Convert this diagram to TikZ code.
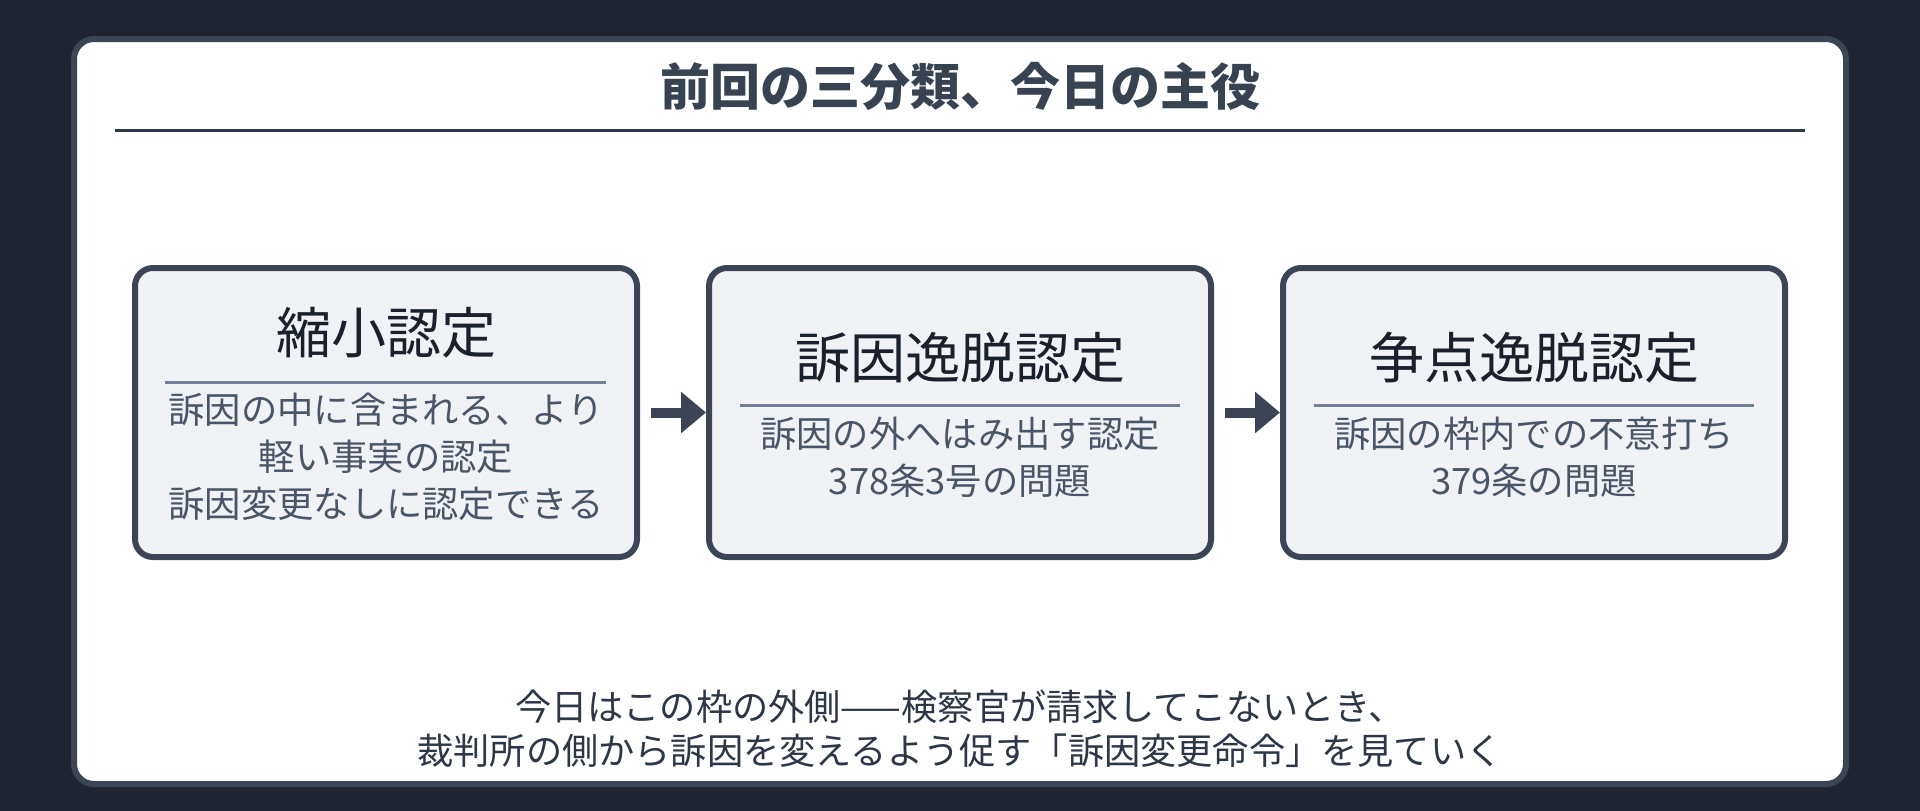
\documentclass[tikz,border=0pt]{standalone}
\usepackage{fontspec}
\setmainfont{Noto Sans CJK JP}
\usetikzlibrary{arrows.meta}
\definecolor{bgdark}{HTML}{1F2430}
\definecolor{framecol}{HTML}{3B4556}
\definecolor{titlecol}{HTML}{384352}
\definecolor{rulecol}{HTML}{2D3748}
\definecolor{boxfill}{HTML}{F0F2F6}
\definecolor{headcol}{HTML}{1A202C}
\definecolor{bodycol}{HTML}{4A5568}
\definecolor{sepcol}{HTML}{718096}
\definecolor{footcol}{HTML}{2D3748}
\tikzset{
  stagebox/.style={draw=framecol, fill=boxfill, line width=6pt, rounded corners=18pt,
    minimum width=502pt, minimum height=289pt, outer sep=3pt, inner sep=0pt},
  stagehead/.style={text=headcol, font=\fontsize{55}{60}\selectfont, inner sep=0pt},
  stagebody/.style={text=bodycol, font=\fontsize{36.3}{47}\selectfont, align=center, inner sep=0pt},
  sepline/.style={draw=sepcol, line width=3pt},
  flowarrow/.style={draw=framecol, line width=10pt, -{Triangle[length=25pt,width=40pt]}},
}
\begin{document}
\begin{tikzpicture}[x=1pt,y=-1pt]
\useasboundingbox (0,0) rectangle (1920,811);
\fill[bgdark] (0,0) rectangle (1920,811);
\draw[framecol, fill=white, line width=6pt, rounded corners=20pt] (74,39) rectangle (1846,784);
\node[text=titlecol, font=\bfseries\fontsize{50}{56}\selectfont, inner sep=0pt] (title) at (960,86) {前回の三分類、今日の主役};
\draw[rulecol, line width=3pt] (115,130) -- (1805,130);

\node[stagebox] (b1) at (386,412.5) {};
\node[stagebox] (b2) at (960,412.5) {};
\node[stagebox] (b3) at (1534,412.5) {};

\node[stagehead] (h1) at (386,333) {縮小認定};
\draw[sepline] (165,382) -- (606,382);
\node[stagebody] (t1) at (386,457) {訴因の中に含まれる、より\\軽い事実の認定\\訴因変更なしに認定できる};

\node[stagehead] (h2) at (960,358) {訴因逸脱認定};
\draw[sepline] (740,405) -- (1180,405);
\node[stagebody] (t2) at (960,457.5) {訴因の外へはみ出す認定\\378条3号の問題};

\node[stagehead] (h3) at (1534,358) {争点逸脱認定};
\draw[sepline] (1314,405) -- (1754,405);
\node[stagebody] (t3) at (1534,457.5) {訴因の枠内での不意打ち\\379条の問題};

\draw[flowarrow] ([xshift=11pt]b1.east) -- (b2.west);
\draw[flowarrow] ([xshift=11pt]b2.east) -- (b3.west);

\node[text=footcol, font=\fontsize{36.2}{44}\selectfont, align=center, inner sep=0pt] (foot) at (960,729)
  {今日はこの枠の外側——検察官が請求してこないとき、\\裁判所の側から訴因を変えるよう促す「訴因変更命令」を見ていく};
\end{tikzpicture}
\end{document}
